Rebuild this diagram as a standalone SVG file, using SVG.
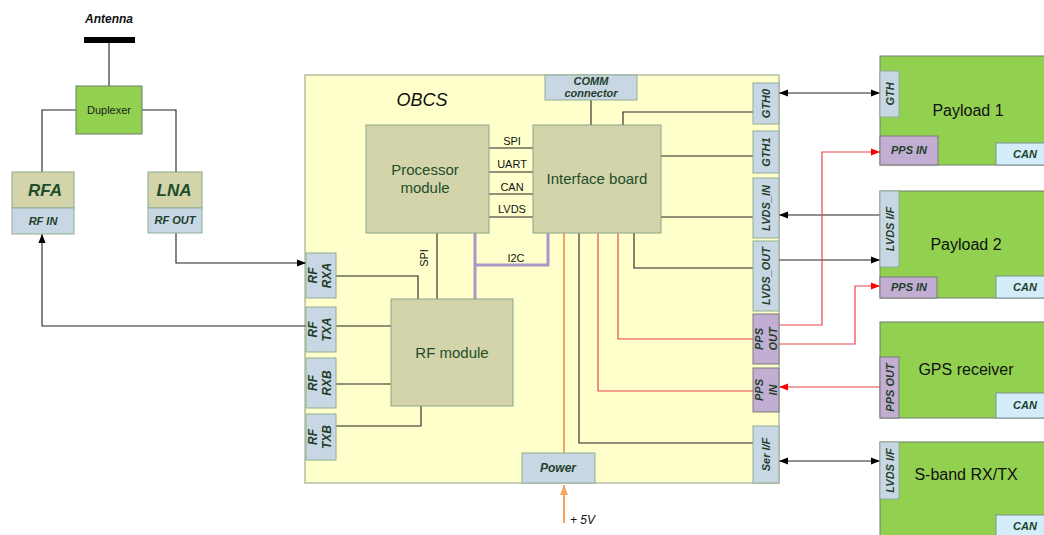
<svg xmlns="http://www.w3.org/2000/svg" width="1044" height="535" viewBox="0 0 1044 535">
<style>
text{font-family:"Liberation Sans",Arial,sans-serif}
.mod{fill:#d4d4aa;stroke:#8aa68a;stroke-width:1}
.port{fill:#c9d7e5;stroke:#8fae93;stroke-width:1}
.pps{fill:#c2aed2;stroke:#7a7a7a;stroke-width:1}
.grn{fill:#92d050;stroke:#6f7f6a;stroke-width:1}
.can{fill:#d3eefa;stroke:#7f8f8f;stroke-width:1}
.pl{font-size:11px;font-weight:bold;font-style:italic;fill:#1f3f2a;text-anchor:middle}
.rl{font-size:12px;font-weight:bold;font-style:italic;fill:#1f3f2a;text-anchor:middle}
.ml{font-size:15px;fill:#1e4d2b;text-anchor:middle}
.bl{font-size:11px;fill:#111;text-anchor:middle}
.big{font-size:16px;fill:#111;text-anchor:middle}
.ln{fill:none;stroke:#222;stroke-width:1.1}
.rd{fill:none;stroke:#e8454a;stroke-width:1.2}
.og{fill:none;stroke:#f4a460;stroke-width:2}
.pu{fill:none;stroke:#a898c8;stroke-width:3}
</style>
<defs>
<marker id="ab" viewBox="0 0 10 10" refX="10" refY="5" markerWidth="9" markerHeight="9" markerUnits="userSpaceOnUse" orient="auto-start-reverse"><path d="M0,1 L10,5 L0,9 z" fill="#000"/></marker>
<marker id="ar" viewBox="0 0 10 10" refX="10" refY="5" markerWidth="9" markerHeight="9" markerUnits="userSpaceOnUse" orient="auto-start-reverse"><path d="M0,1 L10,5 L0,9 z" fill="#ff0000"/></marker>
<marker id="ao" viewBox="0 0 10 10" refX="10" refY="5" markerWidth="10" markerHeight="10" markerUnits="userSpaceOnUse" orient="auto-start-reverse"><path d="M0,1 L10,5 L0,9 z" fill="#f4a460"/></marker>
</defs>
<rect width="1044" height="535" fill="#fff"/>

<g id="obcs">
<rect x="305" y="75" width="474" height="408" fill="#ffffcc" stroke="#b5bfa5" stroke-width="1.5"/>
<text x="422" y="106" font-size="18" font-style="italic" fill="#111" text-anchor="middle">OBCS</text>
</g>

<g id="connectors">
<path class="ln" d="M109,43 V86"/>
<path class="ln" d="M76,110 H42 V172"/>
<path class="ln" d="M142,110 H176 V172"/>
<path class="ln" d="M176,233 V263 H306" marker-end="url(#ab)"/>
<path class="ln" d="M306,326 H42 V234" marker-end="url(#ab)"/>
<path class="ln" d="M489,148 H533 M489,172 H533 M489,194 H533 M489,217 H533"/>
<path class="ln" d="M591,100 V125"/>
<path class="ln" d="M623,125 V112 H753"/>
<path class="ln" d="M661,156 H753"/>
<path class="ln" d="M661,217 H753"/>
<path class="ln" d="M634,233 V268 H753"/>
<path class="ln" d="M579,233 V443 H753"/>
<path class="rd" d="M618,233 V339 H753"/>
<path class="rd" d="M598,233 V391 H753"/>
<path class="og" d="M564,233 V453"/>
<path class="og" d="M564,523 V485" marker-end="url(#ao)"/>
<path class="pu" d="M475,233 V299 M475,265 H548 V233"/>
<path class="ln" d="M437,233 V299"/>
<path class="ln" d="M336,276 H418 V299"/>
<path class="ln" d="M336,326 H391"/>
<path class="ln" d="M336,384 H391"/>
<path class="ln" d="M336,426 H421 V406"/>
<path class="ln" d="M779,93 H880" marker-start="url(#ab)" marker-end="url(#ab)"/>
<path class="ln" d="M880,215 H779" marker-end="url(#ab)"/>
<path class="ln" d="M779,260 H880" marker-end="url(#ab)"/>
<path class="rd" d="M779,325 H822 V152 H880" marker-end="url(#ar)"/>
<path class="rd" d="M779,344 H855 V286 H880" marker-end="url(#ar)"/>
<path class="rd" d="M880,387 H779" marker-end="url(#ar)"/>
<path class="ln" d="M779,461 H880" marker-start="url(#ab)" marker-end="url(#ab)"/>
<text class="bl" x="512" y="145">SPI</text>
<text class="bl" x="512" y="168">UART</text>
<text class="bl" x="512" y="191">CAN</text>
<text class="bl" x="512" y="213">LVDS</text>
<text class="bl" x="516" y="262">I2C</text>
<text class="bl" transform="translate(428,258) rotate(-90)">SPI</text>
</g>

<g id="antenna">
<rect x="84" y="37" width="51" height="6" fill="#000"/>
<text x="109" y="23" font-size="12" font-weight="bold" font-style="italic" fill="#111" text-anchor="middle">Antenna</text>
</g>
<g id="duplexer">
<rect class="grn" x="76" y="86" width="66" height="48"/>
<text x="109" y="114" font-size="11" fill="#1a1a1a" text-anchor="middle">Duplexer</text>
</g>
<g id="rfa">
<rect class="mod" x="12" y="172" width="62" height="36"/>
<text x="45" y="196" font-size="17" font-weight="bold" font-style="italic" fill="#1e4d2b" text-anchor="middle">RFA</text>
<rect class="port" x="12" y="208" width="62" height="26"/>
<text class="pl" x="43" y="225">RF IN</text>
</g>
<g id="lna">
<rect class="mod" x="148" y="172" width="54" height="36"/>
<text x="174" y="196" font-size="17" font-weight="bold" font-style="italic" fill="#1e4d2b" text-anchor="middle">LNA</text>
<rect class="port" x="148" y="208" width="54" height="25"/>
<text class="pl" x="175" y="224">RF OUT</text>
</g>

<g id="comm">
<rect class="port" x="545" y="75" width="92" height="25"/>
<text class="pl" x="591" y="85">COMM</text>
<text class="pl" x="591" y="97">connector</text>
</g>
<g id="processor">
<rect class="mod" x="366" y="125" width="123" height="108"/>
<text class="ml" x="425" y="175">Processor</text>
<text class="ml" x="425" y="193">module</text>
</g>
<g id="interface">
<rect class="mod" x="533" y="125" width="128" height="108"/>
<text class="ml" x="597" y="184">Interface board</text>
</g>
<g id="rfmodule">
<rect class="mod" x="391" y="299" width="122" height="107"/>
<text class="ml" x="452" y="358">RF module</text>
</g>
<g id="power">
<rect class="port" x="522" y="453" width="73" height="30"/>
<text class="rl" x="558" y="472">Power</text>
<text x="570" y="524" font-size="12" font-style="italic" fill="#111">+ 5V</text>
</g>

<g id="rf-ports">
<rect class="port" x="306" y="253" width="30" height="45"/>
<text class="rl" transform="translate(321,275.5) rotate(-90)"><tspan x="0" y="-4">RF</tspan><tspan x="0" y="10">RXA</tspan></text>
<rect class="port" x="306" y="307" width="30" height="45"/>
<text class="rl" transform="translate(321,329.5) rotate(-90)"><tspan x="0" y="-4">RF</tspan><tspan x="0" y="10">TXA</tspan></text>
<rect class="port" x="306" y="358" width="30" height="50"/>
<text class="rl" transform="translate(321,383) rotate(-90)"><tspan x="0" y="-4">RF</tspan><tspan x="0" y="10">RXB</tspan></text>
<rect class="port" x="306" y="414" width="30" height="46"/>
<text class="rl" transform="translate(321,437) rotate(-90)"><tspan x="0" y="-4">RF</tspan><tspan x="0" y="10">TXB</tspan></text>
</g>

<g id="obcs-ports">
<rect class="port" x="753" y="83" width="26" height="41"/>
<text class="pl" transform="translate(766,103.5) rotate(-90)" y="4">GTH0</text>
<rect class="port" x="753" y="131" width="26" height="42"/>
<text class="pl" transform="translate(766,152) rotate(-90)" y="4">GTH1</text>
<rect class="port" x="753" y="178" width="26" height="60"/>
<text class="pl" transform="translate(766,208) rotate(-90)" y="4" font-size="12" font-weight="normal">LVDS_IN</text>
<rect class="port" x="753" y="241" width="26" height="70"/>
<text class="pl" transform="translate(766,276) rotate(-90)" y="4" font-size="12" font-weight="normal">LVDS_OUT</text>
<rect class="pps" x="753" y="314" width="26" height="50"/>
<text class="pl" transform="translate(766,339) rotate(-90)"><tspan x="0" y="-3">PPS</tspan><tspan x="0" y="11">OUT</tspan></text>
<rect class="pps" x="753" y="368" width="26" height="44"/>
<text class="pl" transform="translate(766,390) rotate(-90)"><tspan x="0" y="-3">PPS</tspan><tspan x="0" y="11">IN</tspan></text>
<rect class="port" x="753" y="426" width="26" height="57"/>
<text class="pl" transform="translate(766,454.5) rotate(-90)" y="4">Ser I/F</text>
</g>

<g id="payload1">
<rect class="grn" x="880" y="56" width="170" height="109"/>
<text class="big" x="968" y="116">Payload 1</text>
<rect class="port" x="880" y="71" width="19" height="46"/>
<text class="pl" transform="translate(889.5,94) rotate(-90)" y="4">GTH</text>
<rect class="pps" x="880" y="136" width="58" height="29"/>
<text class="pl" x="909" y="154">PPS IN</text>
<rect class="can" x="996" y="143" width="54" height="22"/>
<text class="pl" x="1025" y="158">CAN</text>
</g>
<g id="payload2">
<rect class="grn" x="880" y="191" width="170" height="107"/>
<text class="big" x="966" y="250">Payload 2</text>
<rect class="port" x="880" y="191" width="19" height="76"/>
<text class="pl" transform="translate(889.5,229) rotate(-90)" y="4">LVDS I/F</text>
<rect class="pps" x="880" y="277" width="57" height="21"/>
<text class="pl" x="909" y="291">PPS IN</text>
<rect class="can" x="996" y="276" width="54" height="22"/>
<text class="pl" x="1025" y="291">CAN</text>
</g>
<g id="gps">
<rect class="grn" x="880" y="322" width="170" height="96"/>
<text class="big" x="966" y="375">GPS receiver</text>
<rect class="pps" x="880" y="357" width="19" height="61"/>
<text class="pl" transform="translate(889.5,387.5) rotate(-90)" y="4">PPS OUT</text>
<rect class="can" x="996" y="393" width="54" height="25"/>
<text class="pl" x="1025" y="409">CAN</text>
</g>
<g id="sband">
<rect class="grn" x="880" y="442" width="170" height="100"/>
<text class="big" x="966" y="480">S-band RX/TX</text>
<rect class="port" x="880" y="442" width="19" height="57"/>
<text class="pl" transform="translate(889.5,470.5) rotate(-90)" y="4">LVDS I/F</text>
<rect class="can" x="996" y="515" width="54" height="27"/>
<text class="pl" x="1025" y="530">CAN</text>
</g>
</svg>
